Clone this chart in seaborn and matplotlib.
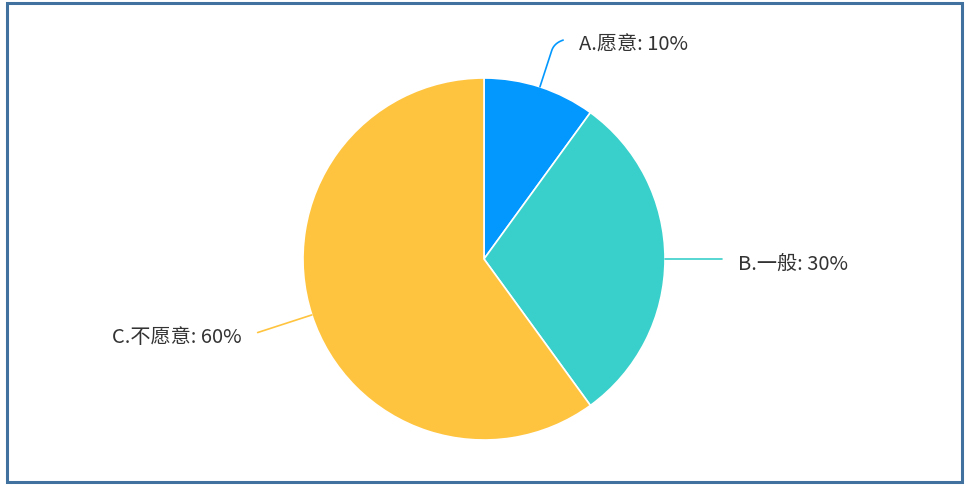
import numpy as np
import matplotlib
matplotlib.use("Agg")
import matplotlib.pyplot as plt
import seaborn as sns
from matplotlib.patches import Rectangle

sns.set_theme(style="white")
plt.rcParams['font.family'] = ['Noto Sans CJK SC', 'DejaVu Sans']

categories = ["A.愿意", "B.一般", "C.不愿意"]
values = [10, 30, 60]
colors = ["#0398FE", "#39D0CB", "#FFC43F"]

W, H = 972, 490
fig = plt.figure(figsize=(W / 100, H / 100), dpi=100)
ax = fig.add_axes([0, 0, 1, 1])

cx, cy, R = 484, H - 259, 181
wedges, _ = ax.pie(values, colors=colors, startangle=90, counterclock=False,
                   center=(cx, cy), radius=R, frame=True,
                   wedgeprops=dict(edgecolor="white", linewidth=1.2))
ax.set_xlim(0, W)
ax.set_ylim(0, H)
ax.set_aspect("equal")
ax.axis("off")

# label leader settings: (radial length, horizontal tail)
leaders = [(46, 9), (57, 0), (57, 0)]
total = sum(values)
for w, cat, v, col, (l1, l2) in zip(wedges, categories, values, colors, leaders):
    ang = np.deg2rad((w.theta1 + w.theta2) / 2)
    ux, uy = np.cos(ang), np.sin(ang)
    x0, y0 = cx + R * ux, cy + R * uy
    x1, y1 = cx + (R + l1) * ux, cy + (R + l1) * uy
    side = 1 if ux >= 0 else -1
    if l2 > 0:
        t = np.linspace(0, 1, 30)
        xm, ym = x1, y1
        xe, ye = x1 + side * l2, y1 + 3
        bx = (1 - t) ** 2 * (xm - 8 * ux) + 2 * (1 - t) * t * xm + t ** 2 * xe
        by = (1 - t) ** 2 * (ym - 8 * uy) + 2 * (1 - t) * t * ym + t ** 2 * ye
        xs = np.concatenate([np.linspace(x0, xm - 8 * ux, 10), bx])
        ys = np.concatenate([np.linspace(y0, ym - 8 * uy, 10), by])
        ax.plot(xs, ys, color=col, lw=1.2, solid_capstyle="round")
        tx, ty = xe, ye
    else:
        ax.plot([x0, x1], [y0, y1], color=col, lw=1.2)
        tx, ty = x1, y1
    ax.text(tx + side * 16, ty - 5, f"{cat}: {v / total * 100:.0f}%",
            ha="left" if side > 0 else "right", va="center",
            fontsize=14.5, color="#333333")

# outer frame
fig.patches.append(Rectangle((7 / W, (H - 482) / H), (962 - 7) / W, (482 - 3) / H,
                             transform=fig.transFigure, fill=False,
                             edgecolor="#41729F", linewidth=2.2))

fig.savefig("out.png", dpi=100)
